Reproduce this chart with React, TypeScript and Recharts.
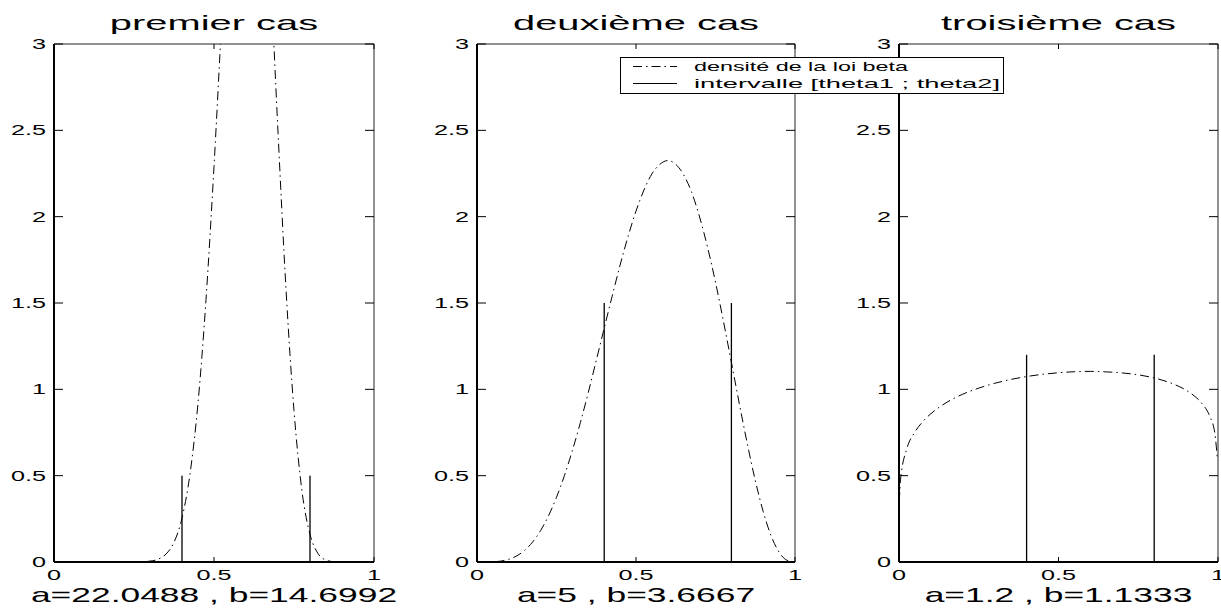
import React from "react";
import { LineChart, Line, XAxis, YAxis, Label } from "recharts";

const xTicks = [0, 0.5, 1];
const yTicks = [0, 0.5, 1, 1.5, 2, 2.5, 3];

const titles = ["premier cas", "deuxième cas", "troisième cas"];
const paramLabels = ["a=22.0488 , b=14.6992", "a=5 , b=3.6667", "a=1.2 , b=1.1333"];

// x grid for panels 1 and 2
const gridX = [
  0, 0.025, 0.05, 0.075, 0.1, 0.125, 0.15, 0.175, 0.2, 0.225, 0.25, 0.275, 0.3, 0.325, 0.35, 0.375, 0.4,
  0.425, 0.45, 0.475, 0.5, 0.525, 0.55, 0.575, 0.6, 0.625, 0.65, 0.675, 0.7, 0.725, 0.75, 0.775, 0.8,
  0.825, 0.85, 0.875, 0.9, 0.925, 0.95, 0.975, 1,
];
const densite1 = [
  0, 0, 0, 0, 0, 0, 0, 0, 0, 0, 0.0002, 0.0013, 0.005, 0.016, 0.046, 0.114, 0.254,
  0.51, 0.92, 1.52, 2.29, 3.17, 4.02, 4.69, 5.0, 4.88, 4.33, 3.47, 2.49, 1.58, 0.876, 0.41, 0.16,
  0.049, 0.011, 0.0017, 0.0002, 0, 0, 0, 0,
];
const densite2 = [
  0, 0.0001, 0.0011, 0.0053, 0.0156, 0.0353, 0.0678, 0.116, 0.182, 0.268, 0.375, 0.501, 0.646, 0.807,
  0.982, 1.167, 1.354, 1.539, 1.72, 1.885, 2.032, 2.154, 2.248, 2.303, 2.325, 2.303, 2.242, 2.141,
  1.998, 1.823, 1.62, 1.394, 1.156, 0.916, 0.685, 0.473, 0.292, 0.151, 0.057, 0.01, 0,
];
// panel 3 has its own grid (curve stays high at both ends)
const gridX3 = [
  0.001, 0.005, 0.025, 0.05, 0.075, 0.1, 0.15, 0.2, 0.25, 0.3, 0.35, 0.4, 0.45, 0.5, 0.55, 0.6, 0.65,
  0.7, 0.75, 0.8, 0.85, 0.9, 0.925, 0.95, 0.975, 0.99, 0.998,
];
const densite3 = [
  0.35, 0.48, 0.658, 0.753, 0.814, 0.859, 0.925, 0.972, 1.007, 1.035, 1.057, 1.074, 1.087, 1.096,
  1.102, 1.104, 1.101, 1.095, 1.084, 1.066, 1.038, 0.995, 0.963, 0.917, 0.84, 0.746, 0.6,
];

const theta = [0.4, 0.8];
const intervalHeights = [0.5, 1.5, 1.2];
const legendLabels = ["densité de la loi beta", "intervalle [theta1 ; theta2]"];

const FONT = "'Liberation Sans', Arial, Helvetica, sans-serif";
const DASH_DOT = "9 4 1.5 4";

const plotLefts = [54, 477, 899];
const plotWidths = [321, 319, 320];
const rightRoom = [32, 32, 2];
const PLOT_TOP = 43;
const PLOT_H = 519;
const CHART_H = 608;

const panels = [
  { xs: gridX, ys: densite1 },
  { xs: gridX, ys: densite2 },
  { xs: gridX3, ys: densite3 },
];

const LeftTick = (props: any) => {
  const { x, y, payload } = props;
  return (
    <g>
      <line x1={x} x2={x + 9} y1={y} y2={y} stroke="#000" strokeWidth={1} />
      <text
        transform={`translate(${x - 8},${y + 5}) scale(1.8,1)`}
        textAnchor="end"
        fontSize={14}
        fontFamily={FONT}
        fill="#000"
      >
        {payload.value}
      </text>
    </g>
  );
};

const BottomTick = (props: any) => {
  const { x, y, payload } = props;
  return (
    <g>
      <line x1={x} x2={x} y1={y} y2={y - 5} stroke="#000" strokeWidth={1} />
      <text
        transform={`translate(${x},${y + 18}) scale(1.8,1)`}
        textAnchor="middle"
        fontSize={14}
        fontFamily={FONT}
        fill="#000"
      >
        {payload.value}
      </text>
    </g>
  );
};

const RightTick = (props: any) => {
  const { x, y } = props;
  return <line x1={x} x2={x - 9} y1={y} y2={y} stroke="#000" strokeWidth={1} />;
};

const TopTick = (props: any) => {
  const { x, y } = props;
  return <line x1={x} x2={x} y1={y} y2={y + 5} stroke="#000" strokeWidth={1} />;
};

const ScaledText = ({ x, y, text, size, sx }: { x: number; y: number; text: string; size: number; sx: number }) => (
  <text
    transform={`translate(${x},${y}) scale(${sx},1)`}
    textAnchor="middle"
    fontSize={size}
    fontFamily={FONT}
    fill="#000"
  >
    {text}
  </text>
);

const Panel = ({ i }: { i: number }) => {
  const w = plotWidths[i];
  const curve = panels[i].xs.map((x, k) => ({ x, y: panels[i].ys[k] }));
  const h = intervalHeights[i];
  const lo = [
    { x: theta[0], y: 0 },
    { x: theta[0], y: h },
  ];
  const hi = [
    { x: theta[1], y: 0 },
    { x: theta[1], y: h },
  ];
  return (
    <div style={{ position: "absolute", left: plotLefts[i] - 54, top: 0 }}>
      <LineChart
        width={54 + w + rightRoom[i]}
        height={CHART_H}
        margin={{ top: PLOT_TOP, right: rightRoom[i], left: 0, bottom: 0 }}
      >
        <XAxis
          xAxisId="b"
          type="number"
          dataKey="x"
          domain={[0, 1]}
          ticks={xTicks}
          interval={0}
          allowDataOverflow
          height={CHART_H - PLOT_TOP - PLOT_H}
          tickSize={0}
          tickMargin={0}
          tickLine={false}
          tick={<BottomTick />}
          axisLine={{ stroke: "#000", strokeWidth: 2 }}
        >
          <Label
            content={(p: any) => (
              <ScaledText x={p.viewBox.x + p.viewBox.width / 2} y={p.viewBox.y + 40} text={paramLabels[i]} size={20} sx={1.77} />
            )}
          />
        </XAxis>
        <XAxis
          xAxisId="t"
          orientation="top"
          type="number"
          dataKey="x"
          domain={[0, 1]}
          ticks={xTicks}
          interval={0}
          allowDataOverflow
          height={1}
          tickSize={0}
          tickMargin={0}
          tickLine={false}
          tick={<TopTick />}
          axisLine={{ stroke: "#222", strokeWidth: 1 }}
        >
          <Label
            content={(p: any) => (
              <ScaledText x={p.viewBox.x + p.viewBox.width / 2} y={PLOT_TOP - 13} text={titles[i]} size={21} sx={1.9} />
            )}
          />
        </XAxis>
        <YAxis
          yAxisId="l"
          type="number"
          domain={[0, 3]}
          ticks={yTicks}
          interval={0}
          allowDataOverflow
          width={54}
          tickSize={0}
          tickMargin={0}
          tickLine={false}
          tick={<LeftTick />}
          axisLine={{ stroke: "#000", strokeWidth: 2 }}
        />
        <YAxis
          yAxisId="r"
          orientation="right"
          type="number"
          domain={[0, 3]}
          ticks={yTicks}
          interval={0}
          allowDataOverflow
          width={1}
          tickSize={0}
          tickMargin={0}
          tickLine={false}
          tick={<RightTick />}
          axisLine={{ stroke: "#222", strokeWidth: 1 }}
        />
        {/* invisible series so the box axes (top / right) get drawn */}
        <Line
          xAxisId="t"
          yAxisId="r"
          data={lo}
          dataKey="y"
          stroke="none"
          dot={false}
          activeDot={false}
          isAnimationActive={false}
        />
        <Line
          xAxisId="b"
          yAxisId="l"
          data={curve}
          dataKey="y"
          type="monotone"
          stroke="#000"
          strokeWidth={1}
          strokeDasharray={DASH_DOT}
          dot={false}
          activeDot={false}
          isAnimationActive={false}
        />
        <Line
          xAxisId="b"
          yAxisId="l"
          data={lo}
          dataKey="y"
          type="linear"
          stroke="#000"
          strokeWidth={1.3}
          dot={false}
          activeDot={false}
          isAnimationActive={false}
        />
        <Line
          xAxisId="b"
          yAxisId="l"
          data={hi}
          dataKey="y"
          type="linear"
          stroke="#000"
          strokeWidth={1.3}
          dot={false}
          activeDot={false}
          isAnimationActive={false}
        />
      </LineChart>
    </div>
  );
};

const LegendBox = () => (
  <svg style={{ position: "absolute", left: 620, top: 57 }} width={384} height={37}>
    <rect x={0.5} y={0.5} width={383} height={36} fill="#fff" stroke="#000" strokeWidth={1} />
    <line x1={13} x2={57} y1={9.5} y2={9.5} stroke="#000" strokeWidth={1} strokeDasharray={DASH_DOT} />
    <line x1={13} x2={57} y1={26.5} y2={26.5} stroke="#000" strokeWidth={1} />
    <text x={74} y={14} fontSize={13} fontFamily={FONT} fill="#000" textLength={214} lengthAdjust="spacingAndGlyphs">
      {legendLabels[0]}
    </text>
    <text x={74} y={31} fontSize={13} fontFamily={FONT} fill="#000" textLength={306} lengthAdjust="spacingAndGlyphs">
      {legendLabels[1]}
    </text>
  </svg>
);

export default function App() {
  return (
    <div style={{ position: "absolute", left: 0, top: 0, width: 1221, height: 608, background: "#fff", overflow: "hidden" }}>
      {[0, 1, 2].map((i) => (
        <Panel key={i} i={i} />
      ))}
      <LegendBox />
    </div>
  );
}
